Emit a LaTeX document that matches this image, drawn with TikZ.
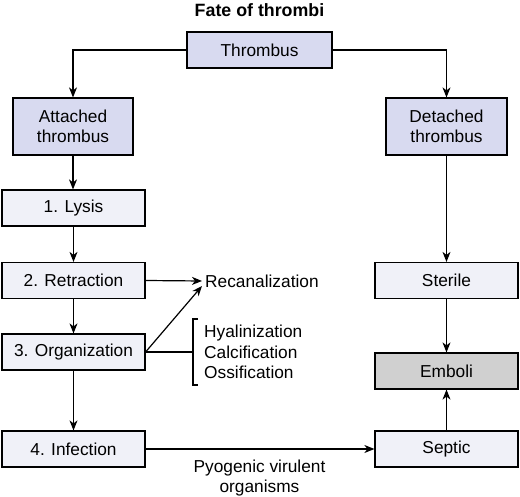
\documentclass[tikz,border=0pt]{standalone}
\usepackage{fontspec}
\setmainfont{Liberation Sans}
\usetikzlibrary{arrows.meta}
\definecolor{lav}{HTML}{D8DAF0}
\definecolor{lite}{HTML}{F0F1F8}
\definecolor{grayb}{HTML}{D0D0D0}
\begin{document}
\begin{tikzpicture}[x=1pt,y=-1pt,
  every node/.style={font=\fontsize{17.3}{20.5}\selectfont, inner sep=0pt},
  boxa/.style={draw, line width=1.2pt, fill=lav, minimum width=#1, align=center},
  boxb/.style={draw, line width=1.2pt, fill=lite, minimum width=143pt, minimum height=36pt},
  conn/.style={line width=1.2pt, -{Stealth[length=10pt,width=8pt,inset=3pt]}},
  plain/.style={line width=1.2pt}]
\useasboundingbox (0,0) rectangle (520,497);
\node[font=\fontsize{17.8}{20}\selectfont\bfseries] (title) at (259.5,10) {Fate of thrombi};
\node[boxa=145pt, minimum height=36pt] (thr) at (259.5,50) {Thrombus};
\node[boxa=120pt, minimum height=57pt] (att) at (73,126.5) {Attached\\thrombus};
\node[boxa=121pt, minimum height=57pt] (det) at (446.5,126.5) {Detached\\thrombus};
\node[boxb] (lys) at (73.5,208) {1. Lysis};
\node[boxb] (ret) at (73.5,280.5) {2. Retraction};
\node[boxb] (org) at (73.5,352) {3. Organization};
\node[boxb] (inf) at (73.5,449) {4. Infection};
\node[boxb] (ste) at (446.5,280.5) {Sterile};
\node[boxb, fill=grayb] (emb) at (446.5,371) {Emboli};
\node[boxb] (sep) at (446.5,449) {Septic};
\node[anchor=west] (rec) at (205,281) {Recanalization};
\node[anchor=west, align=left] (hya) at (204,352) {Hyalinization\\Calcification\\Ossification};
\node[align=center] (pyo) at (259.5,478) {Pyogenic virulent\\organisms};
\coordinate (rend) at (202,281);
\coordinate (bt) at (198,319);
\coordinate (bb) at (198,385);
\coordinate (bm) at (193,352);
\coordinate (rtip) at (202,286);
% connectors
\draw[conn] (thr.west) -| (att.north);
\draw[conn] (thr.east) -| (det.north);
\draw[conn] (att.south) -- (att.south |- lys.north);
\draw[conn] (lys) -- (ret);
\draw[conn] (ret) -- (org);
\draw[conn] (org) -- (inf);
\draw[conn] (ret.east) -- (rend);
\draw[conn] (org.east) -- (rtip);
\draw[plain] (org.east) -- (bm);
\draw[plain] (bt) -- (bt -| bm) -- (bb -| bm) -- (bb);
\draw[conn] (inf.east) -- (sep.west);
\draw[conn] (det.south) -- (ste.north);
\draw[conn] (ste) -- (emb);
\draw[conn] (sep) -- (emb);
\end{tikzpicture}
\end{document}
